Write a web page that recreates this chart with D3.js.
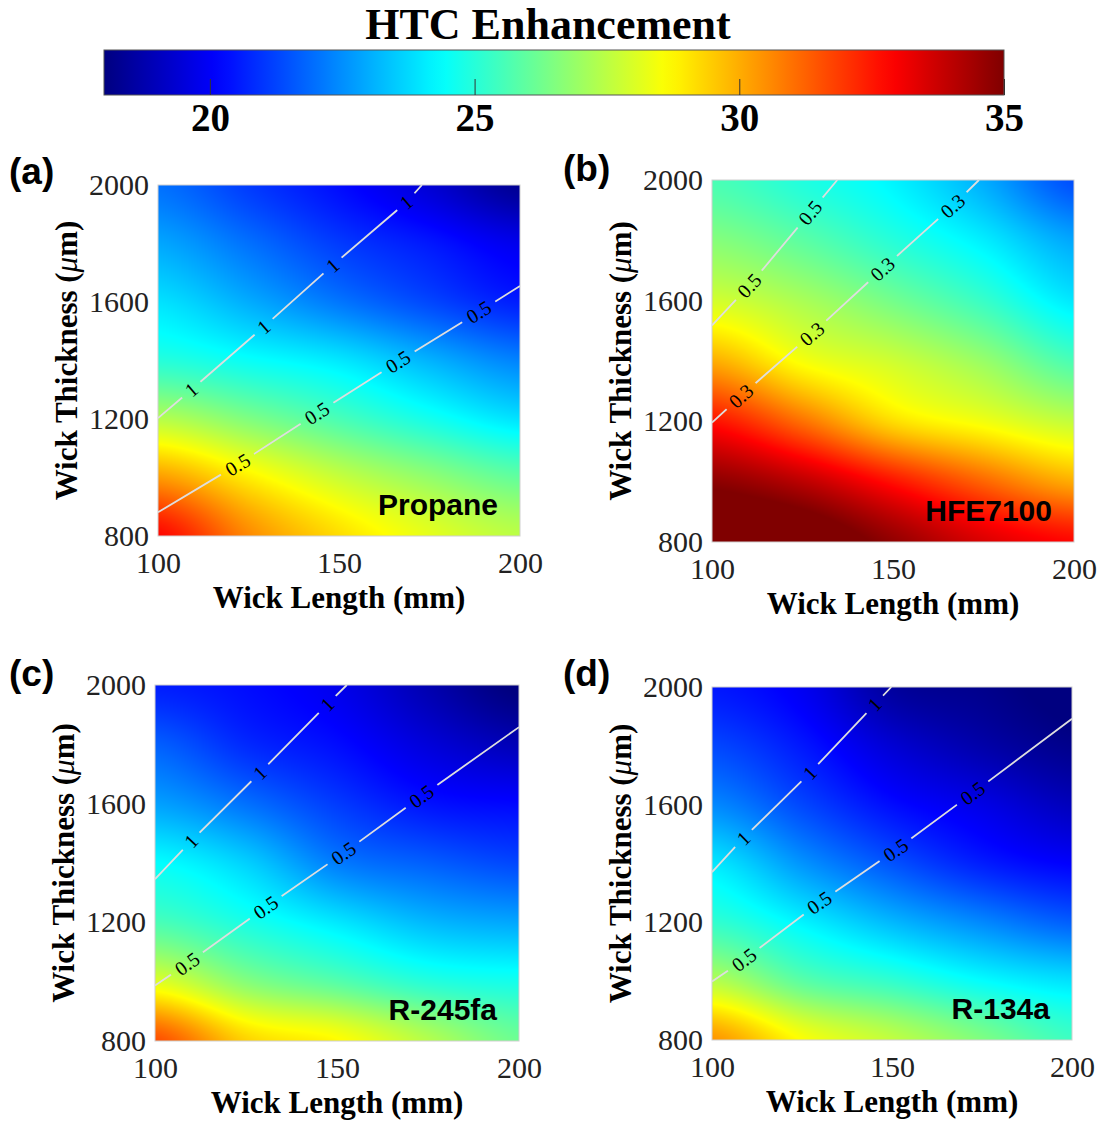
<!DOCTYPE html>
<html>
<head>
<meta charset="utf-8">
<script src="https://cdn.jsdelivr.net/npm/d3@7"></script>
<style>
  body { margin: 0; background: #fff; }
</style>
</head>
<body>
<svg id="fig" width="1106" height="1122"></svg>
<script>
// sample grid
var lengths = [100, 125, 150, 175, 200];                        // mm
var thicknesses = [800, 1000, 1200, 1400, 1600, 1800, 2000];    // um

// HTC enhancement, one row per thickness (800 -> 2000), one column per length
var propaneHTC = [
  [32.8, 30.6, 29.2, 28.2, 27.5],
  [30.3, 28.9, 27.7, 26.8, 26.0],
  [27.4, 26.5, 25.6, 24.7, 23.9],
  [25.0, 24.5, 24.0, 23.1, 22.3],
  [23.9, 23.0, 22.1, 21.3, 20.6],
  [22.9, 22.0, 21.1, 20.5, 19.8],
  [22.0, 21.1, 20.3, 19.4, 18.3]
];
var hfeHTC = [
  [36.0, 35.8, 34.7, 33.5, 32.8],
  [34.8, 34.0, 32.6, 31.2, 30.0],
  [32.6, 31.0, 29.2, 28.4, 27.6],
  [30.0, 28.5, 27.8, 26.9, 25.6],
  [27.9, 27.2, 26.3, 25.3, 24.0],
  [26.6, 25.9, 25.0, 24.1, 22.9],
  [25.6, 24.9, 24.2, 23.0, 21.4]
];
var r245HTC = [
  [31.6, 29.4, 28.7, 27.4, 26.2],
  [28.1, 26.6, 25.8, 25.0, 24.7],
  [25.6, 24.8, 24.0, 23.2, 22.9],
  [24.4, 23.6, 22.2, 21.7, 21.3],
  [22.8, 22.0, 21.1, 20.4, 20.2],
  [21.7, 20.8, 20.3, 19.5, 18.9],
  [20.6, 20.3, 19.8, 18.8, 17.9]
];
var r134HTC = [
  [30.4, 28.6, 27.6, 26.5, 25.4],
  [27.4, 25.9, 25.2, 24.4, 23.9],
  [25.2, 24.2, 23.2, 22.4, 21.7],
  [24.0, 22.6, 21.5, 20.6, 20.1],
  [22.4, 21.3, 20.3, 19.7, 19.0],
  [21.3, 20.5, 19.4, 18.7, 18.2],
  [20.5, 19.9, 18.5, 18.2, 17.8]
];

// contour lines of the second quantity, [length, thickness]
var propaneLine1 = [[100, 1203], [109.2, 1300], [129.2, 1515], [148.2, 1725], [168.6, 1941], [172.9, 2000]];
var propaneLine05 = [[100, 881], [122, 1044], [143.9, 1220], [166.3, 1396], [188.6, 1566], [200, 1655]];
var hfeLine05 = [[100, 1518], [110.3, 1650], [127.1, 1892], [134.6, 2000]];
var hfeLine03 = [[100, 1196], [108, 1284], [127.6, 1490], [147.1, 1705], [166.5, 1914], [173.75, 2000]];
var r245Line1 = [[100, 1346], [109.9, 1474], [128.8, 1704], [147.3, 1935], [152.7, 2000]];
var r245Line05 = [[100, 987], [108.5, 1058], [130.2, 1249], [152, 1435], [173.3, 1626], [200, 1858]];
var r134Line1 = [[100, 1371], [108.3, 1481], [126.8, 1703], [145.2, 1941], [149.8, 2000]];
var r134Line05 = [[100, 999], [108.8, 1072], [129.7, 1266], [151.1, 1447], [172.5, 1640], [200, 1892]];

// where the inline labels sit (length value along each line)
var propaneLabels1 = [109.2, 129.2, 148.2, 168.6];
var propaneLabels05 = [122, 143.9, 166.3, 188.6];
var hfeLabels05 = [110.3, 127.1];
var hfeLabels03 = [108, 127.6, 147.1, 166.5];
var r245Labels1 = [109.9, 128.8, 147.3];
var r245Labels05 = [108.8, 130.4, 151.8, 173.2];
var r134Labels1 = [108.7, 127.2, 145.2];
var r134Labels05 = [108.9, 129.8, 151, 172.4];

var fluids = ["Propane", "HFE7100", "R-245fa", "R-134a"];
var letters = ["(a)", "(b)", "(c)", "(d)"];
var xTicks = [100, 150, 200];
var yTicks = [800, 1200, 1600, 2000];
var colorTicks = [20, 25, 30, 35];
var colorRange = [18, 35];

var serif = "Liberation Serif, Times New Roman, serif";
var sans = "Liberation Sans, Arial, sans-serif";

var panels = [
  { grid: propaneHTC, box: [158, 185, 520, 536], lines: [
      { pts: propaneLine1, label: "1", at: propaneLabels1 },
      { pts: propaneLine05, label: "0.5", at: propaneLabels05 }] },
  { grid: hfeHTC, box: [712, 180, 1074, 542], lines: [
      { pts: hfeLine05, label: "0.5", at: hfeLabels05 },
      { pts: hfeLine03, label: "0.3", at: hfeLabels03 }] },
  { grid: r245HTC, box: [155, 685, 519, 1041], lines: [
      { pts: r245Line1, label: "1", at: r245Labels1 },
      { pts: r245Line05, label: "0.5", at: r245Labels05 }] },
  { grid: r134HTC, box: [712, 687, 1072, 1040], lines: [
      { pts: r134Line1, label: "1", at: r134Labels1 },
      { pts: r134Line05, label: "0.5", at: r134Labels05 }] }
];

// jet colormap
var cmin = colorRange[0], cmax = colorRange[1];
var jet = d3.scaleLinear()
  .domain([0, 0.125, 0.375, 0.625, 0.875, 1].map(function(t) { return cmin + t * (cmax - cmin); }))
  .range(["#000080", "#0000ff", "#00ffff", "#ffff00", "#ff0000", "#800000"])
  .clamp(true);

// smooth (Catmull-Rom) shading between the grid samples
function cubic(p0, p1, p2, p3, t) {
  return p1 + 0.5 * t * (p2 - p0 + t * (2 * p0 - 5 * p1 + 4 * p2 - p3 + t * (3 * (p1 - p2) + p3 - p0)));
}
function pick(arr, i) { return arr[Math.max(0, Math.min(arr.length - 1, i))]; }
function shade(grid, L, T) {
  var i = Math.max(0, Math.min(lengths.length - 2, d3.bisectRight(lengths, L) - 1));
  var j = Math.max(0, Math.min(thicknesses.length - 2, d3.bisectRight(thicknesses, T) - 1));
  var u = Math.max(0, Math.min(1, (L - lengths[i]) / (lengths[i + 1] - lengths[i])));
  var v = Math.max(0, Math.min(1, (T - thicknesses[j]) / (thicknesses[j + 1] - thicknesses[j])));
  var cols = [];
  for (var dj = -1; dj <= 2; dj++) {
    var row = pick(grid, j + dj);
    cols.push(cubic(pick(row, i - 1), pick(row, i), pick(row, i + 1), pick(row, i + 2), u));
  }
  return cubic(cols[0], cols[1], cols[2], cols[3], v);
}

var svg = d3.select("#fig");
var defs = svg.append("defs");

// ---- colorbar ----
var cb = d3.scaleLinear().domain(colorRange).range([104, 1004]);
var grad = defs.append("linearGradient").attr("id", "jetgrad");
d3.range(0, 1.0001, 0.02).forEach(function(t) {
  grad.append("stop").attr("offset", t).attr("stop-color", jet(cmin + t * (cmax - cmin)));
});
svg.append("text")
  .attr("x", 548).attr("y", 39)
  .attr("text-anchor", "middle")
  .attr("font-family", serif).attr("font-weight", "bold").attr("font-size", 44)
  .text("HTC Enhancement");
svg.append("rect")
  .attr("x", cb.range()[0]).attr("y", 50)
  .attr("width", cb.range()[1] - cb.range()[0]).attr("height", 45)
  .attr("fill", "url(#jetgrad)").attr("stroke", "#555").attr("stroke-width", 1);
var cbAxis = svg.append("g")
  .attr("transform", "translate(0,95)")
  .call(d3.axisBottom(cb).tickValues(colorTicks).tickSizeInner(-16).tickSizeOuter(0).tickPadding(8));
cbAxis.attr("font-family", serif).attr("font-size", 39).attr("font-weight", "bold");
cbAxis.select(".domain").remove();
cbAxis.selectAll("line").attr("stroke", "#333");
cbAxis.selectAll("text").attr("fill", "#000");

// ---- panels ----
panels.forEach(function(p, k) {
  var left = p.box[0], top = p.box[1], right = p.box[2], bottom = p.box[3];
  var x = d3.scaleLinear().domain([100, 200]).range([left, right]);
  var y = d3.scaleLinear().domain([800, 2000]).range([bottom, top]);
  var g = svg.append("g");

  // heat map image
  var w = Math.round(right - left), h = Math.round(bottom - top);
  var canvas = document.createElement("canvas");
  canvas.width = w; canvas.height = h;
  var ctx = canvas.getContext("2d");
  var img = ctx.createImageData(w, h);
  for (var r = 0; r < h; r++) {
    var T = y.invert(top + r + 0.5);
    for (var c = 0; c < w; c++) {
      var L = x.invert(left + c + 0.5);
      var col = d3.rgb(jet(shade(p.grid, L, T)));
      var o = (r * w + c) * 4;
      img.data[o] = col.r; img.data[o + 1] = col.g; img.data[o + 2] = col.b; img.data[o + 3] = 255;
    }
  }
  ctx.putImageData(img, 0, 0);
  g.append("image")
    .attr("x", left).attr("y", top).attr("width", w).attr("height", h)
    .attr("preserveAspectRatio", "none")
    .attr("href", canvas.toDataURL());
  g.append("rect")
    .attr("x", left).attr("y", top).attr("width", w).attr("height", h)
    .attr("fill", "none").attr("stroke", "#cfcfcf").attr("stroke-width", 1);

  // contour lines with inline labels
  var mask = defs.append("mask").attr("id", "gap" + k).attr("maskUnits", "userSpaceOnUse")
    .attr("x", 0).attr("y", 0).attr("width", 1106).attr("height", 1122);
  mask.append("rect").attr("x", 0).attr("y", 0).attr("width", 1106).attr("height", 1122).attr("fill", "#fff");
  var lineGen = d3.line().x(function(d) { return x(d[0]); }).y(function(d) { return y(d[1]); });
  var lineG = g.append("g").attr("mask", "url(#gap" + k + ")");
  var labelG = g.append("g").attr("font-family", serif).attr("font-size", 20);
  p.lines.forEach(function(ln) {
    lineG.append("path")
      .attr("d", lineGen(ln.pts))
      .attr("fill", "none").attr("stroke", "#dedede").attr("stroke-width", 1.8);
    ln.at.forEach(function(xv) {
      var s = 0;
      while (s < ln.pts.length - 2 && ln.pts[s + 1][0] < xv) s++;
      var a = ln.pts[s], b = ln.pts[s + 1];
      var f = (xv - a[0]) / (b[0] - a[0]);
      var tv = a[1] + f * (b[1] - a[1]);
      var px = x(xv), py = y(tv);
      var ang = Math.atan2(y(b[1]) - y(a[1]), x(b[0]) - x(a[0])) * 180 / Math.PI;
      var t = labelG.append("text")
        .attr("transform", "translate(" + px + "," + py + ") rotate(" + ang + ")")
        .attr("text-anchor", "middle").attr("dy", "0.35em")
        .attr("fill", "#000")
        .text(ln.label);
      var tw = t.node().getComputedTextLength();
      mask.append("rect")
        .attr("transform", "translate(" + px + "," + py + ") rotate(" + ang + ")")
        .attr("x", -tw / 2 - 7).attr("y", -9).attr("width", tw + 14).attr("height", 18)
        .attr("fill", "#000");
    });
  });

  // fluid name
  g.append("text")
    .attr("x", right - 22).attr("y", bottom - 21)
    .attr("text-anchor", "end")
    .attr("font-family", sans).attr("font-weight", "bold").attr("font-size", 30)
    .text(fluids[k]);

  // axes (no lines, labels only)
  var xa = g.append("g").attr("transform", "translate(0," + bottom + ")")
    .call(d3.axisBottom(x).tickValues(xTicks).tickFormat(d3.format("d")).tickSize(0).tickPadding(16));
  var ya = g.append("g").attr("transform", "translate(" + left + ",0)")
    .call(d3.axisLeft(y).tickValues(yTicks).tickFormat(d3.format("d")).tickSize(0).tickPadding(9));
  [xa, ya].forEach(function(a) {
    a.attr("font-family", serif).attr("font-size", 30);
    a.select(".domain").remove();
    a.selectAll("text").attr("fill", "#222");
  });

  g.append("text")
    .attr("x", (left + right) / 2).attr("y", bottom + 72)
    .attr("text-anchor", "middle")
    .attr("font-family", serif).attr("font-weight", "bold").attr("font-size", 31)
    .text("Wick Length (mm)");
  var yt = g.append("text")
    .attr("transform", "translate(" + (left - 81) + "," + ((top + bottom) / 2) + ") rotate(-90)")
    .attr("text-anchor", "middle")
    .attr("font-family", serif).attr("font-weight", "bold").attr("font-size", 31);
  yt.append("tspan").text("Wick Thickness (");
  yt.append("tspan").attr("font-style", "italic").attr("font-weight", "normal").text("\u03bc");
  yt.append("tspan").text("m)");

  svg.append("text")
    .attr("x", k % 2 === 0 ? 9 : 563).attr("y", k < 2 ? (k === 0 ? 184 : 181) : 686)
    .attr("font-family", sans).attr("font-weight", "bold").attr("font-size", 37)
    .text(letters[k]);
});
</script>
</body>
</html>
